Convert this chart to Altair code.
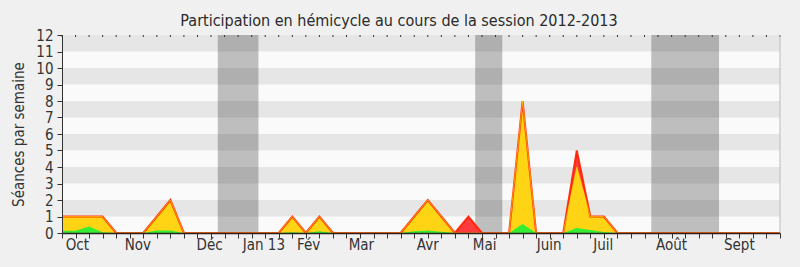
import altair as alt
import pandas as pd

# weekly data (week index from start of session)
weeks = list(range(54))
presence = [1, 1, 1, 1, 0, 0, 0, 1, 2, 0,
            0, 0, 0, 0, 0, 0, 0, 1, 0, 1,
            0, 0, 0, 0, 0, 0, 1, 2, 1, 0,
            1, 0, 0, 0, 8, 0, 0, 0, 5, 1,
            1, 0, 0, 0, 0, 0, 0, 0, 0, 0,
            0, 0, 0, 0]
participation = [1, 1, 1, 1, 0, 0, 0, 1, 2, 0,
                 0, 0, 0, 0, 0, 0, 0, 1, 0, 1,
                 0, 0, 0, 0, 0, 0, 1, 2, 1, 0,
                 0, 0, 0, 0, 8, 0, 0, 0, 4, 1,
                 1, 0, 0, 0, 0, 0, 0, 0, 0, 0,
                 0, 0, 0, 0]
interventions = [0.13, 0.13, 0.4, 0.05, 0, 0, 0, 0.15, 0.15, 0,
                 0, 0, 0, 0, 0, 0, 0, 0.05, 0, 0.1,
                 0, 0, 0, 0, 0, 0, 0.1, 0.15, 0.08, 0,
                 0, 0, 0, 0, 0.55, 0, 0, 0, 0.3, 0.18,
                 0.06, 0, 0, 0, 0, 0, 0, 0, 0, 0,
                 0, 0, 0, 0]

month_labels = ["Oct", "Nov", "Déc", "Jan 13", "Fév", "Mar", "Avr", "Mai",
                "Juin", "Juil", "Août", "Sept"]
month_pos = [1.13, 5.6, 10.9, 14.9, 18.2, 22.1, 27.0, 31.2, 35.96, 39.95, 45.0, 50.0]

vac_start = [11.5, 30.5, 43.5]
vac_end = [14.5, 32.5, 48.5]

band_lo = [1, 3, 5, 7, 9, 11]
band_hi = [2, 4, 6, 8, 10, 12]
y_ticks = list(range(13))

FONT = "DejaVu Sans Condensed, DejaVu Sans, sans-serif"
W, H = 718, 198

df = pd.DataFrame({"week": weeks, "presence": presence,
                   "participation": participation, "interventions": interventions})
months = pd.DataFrame({"label": month_labels, "pos": month_pos})
vac = pd.DataFrame({"s": vac_start, "e": vac_end})
bands = pd.DataFrame({"lo": band_lo, "hi": band_hi})

xscale = alt.Scale(domain=[0, 53], nice=False, zero=False)
yscale = alt.Scale(domain=[0, 12], nice=False)

xaxis = alt.Axis(values=weeks, labels=False, title=None, tickSize=5, tickColor="#333",
                 domainColor="#2a2020", domainWidth=1.5, grid=False, zindex=1)
yaxis = alt.Axis(values=y_ticks, tickCount=13, title="Séances par semaine", tickSize=5,
                 tickColor="#333", domainColor="#333", grid=False, labelFont=FONT,
                 labelFontSize=15, labelColor="#333", labelPadding=4,
                 labelOverlap=False, labelBound=False, labelFlush=False,
                 titleFont=FONT, titleFontSize=15, titleFontWeight="normal",
                 titleColor="#333", titleAngle=-90, titleX=-44, titleY=H / 2,
                 titleAlign="center", titleBaseline="middle", zindex=1)


def X(f):
    return alt.X(f, scale=xscale, axis=xaxis)


def Y(f):
    return alt.Y(f, scale=yscale, axis=yaxis)


bg = alt.Chart(bands).mark_rect(color="#e6e6e6").encode(
    y=Y("lo:Q"), y2="hi:Q",
    x=alt.value(0), x2=alt.value(W),
)

vrect = alt.Chart(vac).mark_rect(color="#000000", opacity=0.24).encode(
    x=X("s:Q"), x2="e:Q",
    y=alt.value(0), y2=alt.value(H),
)

base = alt.Chart(df)
red_area = base.mark_area(color="#ff3c3c", opacity=1).encode(
    x=X("week:Q"), y=Y("presence:Q"))
yel_area = base.mark_area(color="#ffd414", opacity=1).encode(
    x=X("week:Q"), y=Y("participation:Q"))
red_line = base.mark_line(color="#ff2000", strokeWidth=2, opacity=0.9).encode(
    x=X("week:Q"), y=Y("presence:Q"))
yel_line = base.mark_line(color="#ffee00", strokeWidth=1, opacity=0.55).encode(
    x=X("week:Q"), y=Y("participation:Q"))
grn_area = base.mark_area(color="#33ee33", opacity=1).encode(
    x=X("week:Q"), y=Y("interventions:Q"))

top_ticks = base.mark_rule(color="#333", strokeWidth=1).encode(
    x=X("week:Q"), y=alt.value(0), y2=alt.value(2))

right_edge = alt.Chart(pd.DataFrame({"v": [53]})).mark_rule(color="#bbbbbb").encode(
    x=X("v:Q"), y=alt.value(0), y2=alt.value(H))

mlab = alt.Chart(months).mark_text(font=FONT, fontSize=15, color="#333",
                                   baseline="alphabetic", align="center").encode(
    x=X("pos:Q"), y=alt.value(H + 17), text="label:N")

chart = alt.layer(bg, vrect, red_area, yel_area, red_line, yel_line, grn_area,
                  top_ticks, right_edge, mlab).properties(
    width=W, height=H,
    title=alt.TitleParams("Participation en hémicycle au cours de la session 2012-2013",
                          font=FONT, fontSize=16, fontWeight="normal", color="#2a2a2a",
                          anchor="middle", dx=-22, dy=23, offset=9, baseline="alphabetic"),
    autosize=alt.AutoSizeParams(type="none"),
    padding={"left": 62, "top": 35, "right": 20, "bottom": 34},
    background="#f0f0f0",
).configure_view(fill="#fafafa", stroke=None)

chart.save("out.html", embed_options={"renderer": "svg", "actions": False})
